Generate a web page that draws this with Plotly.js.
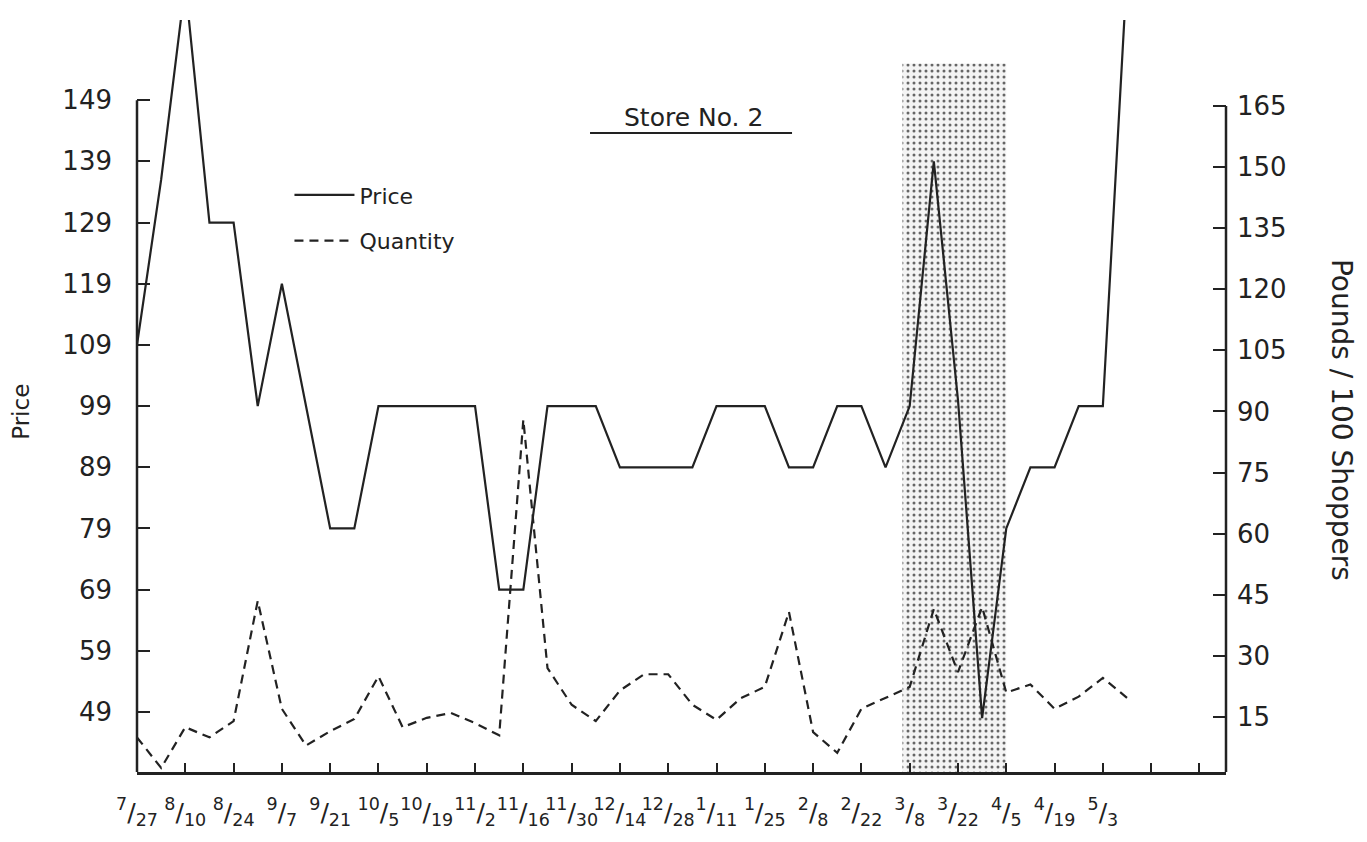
<!DOCTYPE html>
<html>
<head>
<meta charset="utf-8">
<script src="https://cdn.plot.ly/plotly-3.0.1.min.js"></script>
<style>
  html, body { margin: 0; padding: 0; background: #fff; }
  #chart { width: 1367px; height: 842px; }
</style>
</head>
<body>
<div id="chart"></div>
<script>
// ---- Data ----
const weekDates = ['7/27','8/3','8/10','8/17','8/24','8/31','9/7','9/14','9/21','9/28',
  '10/5','10/12','10/19','10/26','11/2','11/9','11/16','11/23','11/30','12/7',
  '12/14','12/21','12/28','1/4','1/11','1/18','1/25','2/1','2/8','2/15',
  '2/22','3/1','3/8','3/15','3/22','3/29','4/5','4/12','4/19','4/26','5/3','5/10'];

const price = [109,136,168,129,129,99,119,99,79,79,
  99,99,99,99,99,69,69,99,99,99,
  89,89,89,89,99,99,99,89,89,99,
  99,89,99,139,100,48,79,89,89,99,99,170];

const quantity = [10,2.5,12.5,10,14,43.5,17,8,11.5,14.5,
  25,12.5,14.8,16,13.5,10.5,88,27,18,14,
  21.5,25.5,25.5,18,14.3,19.6,22.4,40.8,11.3,6.2,
  17,19.7,22.4,41.5,26,42,21,23,17,20,24.6,19.7];

const tickLabels = ['7/27','8/10','8/24','9/7','9/21','10/5','10/19','11/2','11/16','11/30',
  '12/14','12/28','1/11','1/25','2/8','2/22','3/8','3/22','4/5','4/19','5/3'];
const extraTickWeeks = [42, 44];

const priceTicks = [49,59,69,79,89,99,109,119,129,139,149];
const qtyTicks = [15,30,45,60,75,90,105,120,135,150,165];

const shadedPeriod = ['3/8','4/5'];
const shadeTop = 155;

// ---- Derived ----
const weekIdx = weekDates.map((d, i) => i);
const fmt = s => { const p = s.split('/'); return '<sup>' + p[0] + '</sup>/<sub>' + p[1] + '</sub>'; };
const xTickVals = tickLabels.map(l => weekDates.indexOf(l)).concat(extraTickWeeks);
const xTickText = tickLabels.map(fmt).concat(extraTickWeeks.map(() => ''));

const yLeftRange = [39.2, 162.1];
const yRightRange = [1.5, 186.1];
const xRange = [0, 45.1];

const s0 = weekDates.indexOf(shadedPeriod[0]) - 0.3;
const s1 = weekDates.indexOf(shadedPeriod[1]);

const FONT = 'DejaVu Sans, Arial, sans-serif';
const INK = '#222';

const traces = [
  {
    type: 'bar', x: [(s0 + s1) / 2], y: [shadeTop - yLeftRange[0]], base: [yLeftRange[0]],
    width: [s1 - s0], xaxis: 'x', yaxis: 'y', showlegend: false, hoverinfo: 'skip',
    marker: { color: '#f3f3f3', line: { width: 0 },
      pattern: { shape: '.', fgcolor: '#666', bgcolor: '#f4f4f4', size: 6, solidity: 0.2 } }
  },
  {
    type: 'scatter', mode: 'lines', name: 'Price', x: weekIdx, y: price,
    xaxis: 'x', yaxis: 'y', legendgroup: 'a',
    line: { color: INK, width: 2.2 }
  },
  {
    type: 'scatter', mode: 'lines', name: 'Quantity', x: weekIdx, y: quantity,
    xaxis: 'x', yaxis: 'y2', legendgroup: 'b',
    line: { color: INK, width: 2.2, dash: '9px,6px' }
  }
];

const layout = {
  width: 1367, height: 842,
  margin: { l: 137, r: 141, t: 20, b: 70 },
  paper_bgcolor: '#fff', plot_bgcolor: '#fff',
  font: { family: FONT, color: INK, size: 22 },
  showlegend: true,
  legend: {
    x: 0.14, y: 0.795, xanchor: 'left', yanchor: 'top',
    bgcolor: 'rgba(0,0,0,0)', font: { size: 22, family: FONT, color: INK },
    traceorder: 'grouped', tracegroupgap: 14, itemwidth: 60
  },
  xaxis: {
    range: xRange, showgrid: false, zeroline: false,
    showline: true, linecolor: INK, linewidth: 2.5,
    tickmode: 'array', tickvals: xTickVals, ticktext: xTickText,
    ticks: 'inside', ticklen: 9, tickwidth: 2, tickcolor: INK,
    tickangle: 0, ticklabelstandoff: 16,
    tickfont: { size: 25, family: FONT, color: INK }
  },
  yaxis: {
    range: yLeftRange, showgrid: false, zeroline: false, showline: false,
    tickmode: 'array', tickvals: priceTicks,
    ticks: 'inside', ticklen: 13, tickwidth: 2, tickcolor: INK,
    ticklabelstandoff: 24,
    tickfont: { size: 26, family: FONT, color: INK }
  },
  yaxis2: {
    range: yRightRange, overlaying: 'y', side: 'right',
    showgrid: false, zeroline: false, showline: false,
    tickmode: 'array', tickvals: qtyTicks,
    ticks: 'inside', ticklen: 13, tickwidth: 2, tickcolor: INK,
    ticklabelstandoff: 10,
    tickfont: { size: 26, family: FONT, color: INK }
  },
  shapes: [
    { type: 'line', xref: 'paper', yref: 'y', x0: 0, x1: 0, y0: yLeftRange[0], y1: 149,
      line: { color: INK, width: 2.5 } },
    { type: 'line', xref: 'paper', yref: 'y2', x0: 1, x1: 1, y0: yRightRange[0], y1: 165,
      line: { color: INK, width: 2.5 } },
    { type: 'line', xref: 'paper', yref: 'paper', x0: 0.416, x1: 0.6015, y0: 0.8497, y1: 0.8497,
      line: { color: INK, width: 2 } }
  ],
  annotations: [
    { text: 'Store No. 2', xref: 'paper', yref: 'paper', x: 0.5106, y: 0.8697,
      xanchor: 'center', yanchor: 'middle', showarrow: false,
      font: { size: 25, family: FONT, color: INK } },
    { text: 'Price', xref: 'paper', yref: 'paper', x: -0.1065, y: 0.479,
      xanchor: 'center', yanchor: 'middle', showarrow: false, textangle: -90,
      font: { size: 23, family: FONT, color: INK } },
    { text: 'Pounds / 100 Shoppers', xref: 'paper', yref: 'paper', x: 1.1066, y: 0.468,
      xanchor: 'center', yanchor: 'middle', showarrow: false, textangle: 90,
      font: { size: 28, family: FONT, color: INK } }
  ]
};

Plotly.newPlot('chart', traces, layout, { displayModeBar: false, staticPlot: true });
</script>
</body>
</html>
